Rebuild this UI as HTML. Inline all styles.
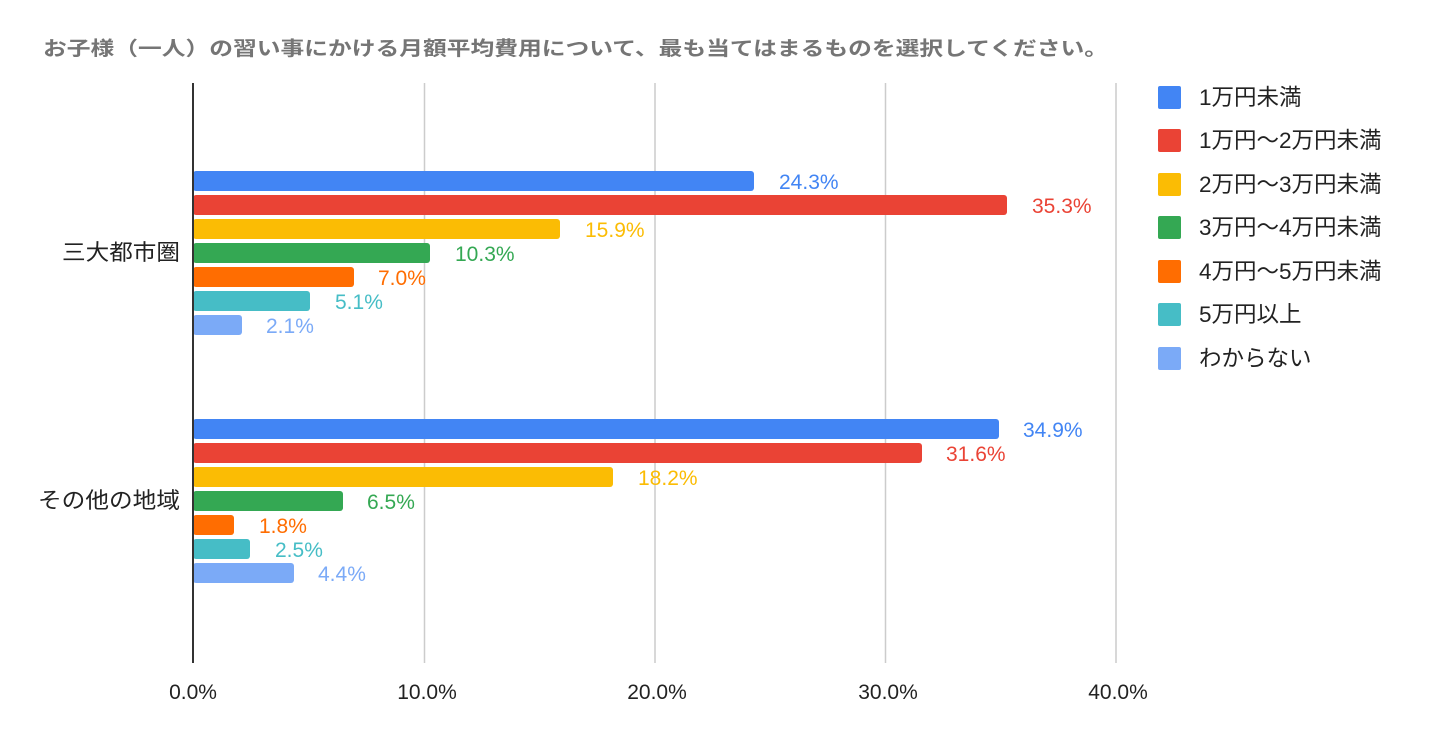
<!DOCTYPE html>
<html><head><meta charset="utf-8"><style>
html,body{margin:0;padding:0;background:#fff;}
svg{display:block;font-family:"Liberation Sans","Noto Sans CJK JP",sans-serif;}
</style></head><body>
<svg width="1429" height="737" viewBox="0 0 1429 737" xmlns="http://www.w3.org/2000/svg">
<rect width="1429" height="737" fill="#fff"/>
<text x="43" y="55" font-size="19.5" font-weight="bold" fill="#757575" textLength="1065" lengthAdjust="spacingAndGlyphs">お子様（一人）の習い事にかける月額平均費用について、最も当てはまるものを選択してください。</text>
<g stroke="#cccccc" stroke-width="1.5">
<line x1="424.5" y1="83" x2="424.5" y2="663"/>
<line x1="655" y1="83" x2="655" y2="663"/>
<line x1="885.5" y1="83" x2="885.5" y2="663"/>
<line x1="1116" y1="83" x2="1116" y2="663"/>
</g>
<g font-size="21" fill="#222" text-anchor="middle">
<text x="193" y="699">0.0%</text>
<text x="427" y="699">10.0%</text>
<text x="657" y="699">20.0%</text>
<text x="888" y="699">30.0%</text>
<text x="1118" y="699">40.0%</text>
</g>
<g font-size="22" fill="#222">
<text x="62" y="260" textLength="118" lengthAdjust="spacingAndGlyphs">三大都市圏</text>
<text x="38" y="508" textLength="142" lengthAdjust="spacingAndGlyphs">その他の地域</text>
</g>
<g font-size="21">
<rect x="193" y="171" width="561" height="20" rx="3" fill="#4285f4"/><text x="779" y="189" fill="#4285f4">24.3%</text>
<rect x="193" y="195" width="814" height="20" rx="3" fill="#ea4335"/><text x="1032" y="213" fill="#ea4335">35.3%</text>
<rect x="193" y="219" width="367" height="20" rx="3" fill="#fbbc04"/><text x="585" y="237" fill="#fbbc04">15.9%</text>
<rect x="193" y="243" width="237" height="20" rx="3" fill="#34a853"/><text x="455" y="261" fill="#34a853">10.3%</text>
<rect x="193" y="267" width="161" height="20" rx="3" fill="#ff6d01"/><text x="378" y="285" fill="#ff6d01">7.0%</text>
<rect x="193" y="291" width="117" height="20" rx="3" fill="#46bdc6"/><text x="335" y="309" fill="#46bdc6">5.1%</text>
<rect x="193" y="315" width="49" height="20" rx="3" fill="#7baaf7"/><text x="266" y="333" fill="#7baaf7">2.1%</text>
<rect x="193" y="419" width="806" height="20" rx="3" fill="#4285f4"/><text x="1023" y="437" fill="#4285f4">34.9%</text>
<rect x="193" y="443" width="729" height="20" rx="3" fill="#ea4335"/><text x="946" y="461" fill="#ea4335">31.6%</text>
<rect x="193" y="467" width="420" height="20" rx="3" fill="#fbbc04"/><text x="638" y="485" fill="#fbbc04">18.2%</text>
<rect x="193" y="491" width="150" height="20" rx="3" fill="#34a853"/><text x="367" y="509" fill="#34a853">6.5%</text>
<rect x="193" y="515" width="41" height="20" rx="3" fill="#ff6d01"/><text x="259" y="533" fill="#ff6d01">1.8%</text>
<rect x="193" y="539" width="57" height="20" rx="3" fill="#46bdc6"/><text x="275" y="557" fill="#46bdc6">2.5%</text>
<rect x="193" y="563" width="101" height="20" rx="3" fill="#7baaf7"/><text x="318" y="581" fill="#7baaf7">4.4%</text>
</g>
<line x1="193" y1="83" x2="193" y2="663" stroke="#333" stroke-width="2"/>
<g font-size="22.5" fill="#222">
<rect x="1158" y="86" width="23" height="23" rx="2" fill="#4285f4"/><text x="1199" y="105">1万円未満</text>
<rect x="1158" y="129" width="23" height="23" rx="2" fill="#ea4335"/><text x="1199" y="148">1万円〜2万円未満</text>
<rect x="1158" y="173" width="23" height="23" rx="2" fill="#fbbc04"/><text x="1199" y="192">2万円〜3万円未満</text>
<rect x="1158" y="216" width="23" height="23" rx="2" fill="#34a853"/><text x="1199" y="235">3万円〜4万円未満</text>
<rect x="1158" y="260" width="23" height="23" rx="2" fill="#ff6d01"/><text x="1199" y="279">4万円〜5万円未満</text>
<rect x="1158" y="303" width="23" height="23" rx="2" fill="#46bdc6"/><text x="1199" y="322">5万円以上</text>
<rect x="1158" y="347" width="23" height="23" rx="2" fill="#7baaf7"/><text x="1199" y="366">わからない</text>
</g>
</svg>
</body></html>
